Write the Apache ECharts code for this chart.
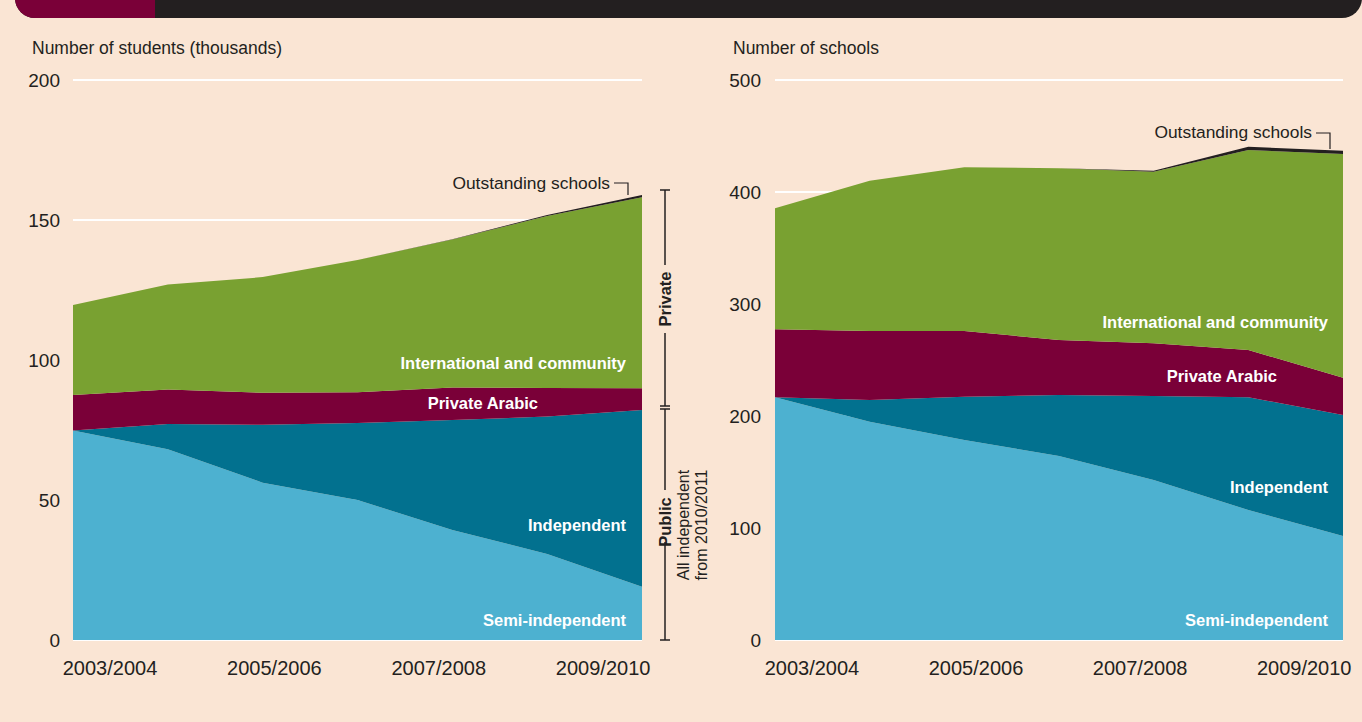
<!DOCTYPE html>
<html><head><meta charset="utf-8">
<script src="https://cdn.jsdelivr.net/npm/echarts@6/dist/echarts.min.js"></script>
<style>html,body{margin:0;padding:0;background:#fae5d4}#c{width:1362px;height:722px}</style>
</head><body><div id="c"></div>
<script>
// ---- data ----
const years = ['2003/2004','2004/2005','2005/2006','2006/2007','2007/2008','2008/2009','2009/2010'];
const tickLabels = ['2003/2004','2005/2006','2007/2008','2009/2010'];
const seriesNames = ['Semi-independent','Independent','Private Arabic','International and community','Outstanding schools'];
// students (thousands)
const stuSemi   = [74.8, 68.1, 56.2, 50.0, 39.3, 30.7, 19.0];
const stuIndep  = [0, 9.0, 20.7, 27.5, 39.3, 49.1, 63.1];
const stuArabic = [12.7, 12.4, 11.4, 11.0, 11.6, 10.2, 7.8];
const stuIntl   = [32.1, 37.5, 41.3, 47.2, 52.8, 61.4, 68.2];
const stuOutst  = [0, 0, 0, 0, 0.1, 0.4, 0.8];
// number of schools
const schSemi   = [216.7, 194.9, 178.6, 164.3, 142.9, 116.1, 92.9];
const schIndep  = [0, 19.4, 38.6, 54.5, 75.0, 100.6, 108.0];
const schArabic = [60.7, 61.6, 58.7, 49.1, 47.0, 42.2, 33.3];
const schIntl   = [108.0, 134.2, 146.2, 153.3, 153.1, 178.5, 199.7];
const schOutst  = [0, 0, 0, 0, 1, 3, 3];

// ---- style ----
const FONT = "'Liberation Sans', Arial, sans-serif";
const INK = '#231f20';
const colors = ['#4db1d0', '#02718f', '#7a0038', '#79a131', '#231f20'];

const labelStart = 0.39, labelEnd = 5.59;
const labelStep = (labelEnd - labelStart) / (tickLabels.length - 1);
const labelPos = tickLabels.map((_, i) => labelStart + i * labelStep);

function xAxesFor(g) {
  return [
    { type: 'category', gridIndex: g, data: years, boundaryGap: false, position: 'top',
      axisLine: {show: false}, axisTick: {show: false}, axisLabel: {show: false}, splitLine: {show: false} },
    { type: 'value', gridIndex: g, min: 0, max: years.length - 1, position: 'bottom',
      axisLine: {show: false}, axisTick: {show: false}, splitLine: {show: false},
      axisLabel: { customValues: labelPos, fontSize: 20, color: INK, fontFamily: FONT, margin: 18,
        formatter: v => tickLabels[Math.round((v - labelStart) / labelStep)] } }
  ];
}
function yAxisFor(g, max, interval, margin) {
  return { type: 'value', gridIndex: g, min: 0, max: max, interval: interval,
    axisLine: {show: false}, axisTick: {show: false},
    axisLabel: { fontSize: 19, color: INK, fontFamily: FONT, margin: margin },
    splitLine: { lineStyle: { color: '#ffffff', width: 2 } } };
}
function seriesFor(g, arrays, stack) {
  return arrays.map((arr, i) => ({
    name: seriesNames[i], type: 'line', stack: stack, xAxisIndex: g * 2, yAxisIndex: g,
    data: arr, symbol: 'none', smooth: false,
    lineStyle: { width: 0 }, areaStyle: { color: colors[i], opacity: 1 }, z: 2 + i
  }));
}

function whiteLabel(text, x, y) {
  return { type: 'text', x: x, y: y, z: 100,
    style: { text: text, fill: '#ffffff', font: 'bold 16.5px ' + FONT, align: 'right', verticalAlign: 'middle' } };
}
function line(x1, y1, x2, y2) {
  return { type: 'line', z: 100, shape: {x1, y1, x2, y2}, style: { stroke: INK, lineWidth: 1.5 } };
}

const graphics = [
  // top bar
  { type: 'rect', z: 100, shape: {x: 15, y: -30, width: 1347, height: 48, r: [0, 0, 20, 20]}, style: {fill: INK} },
  { type: 'rect', z: 101, shape: {x: 15, y: -30, width: 140, height: 48, r: [0, 0, 0, 20]}, style: {fill: '#7a0038'} },
  // axis titles
  { type: 'text', x: 32, y: 48, z: 100, style: { text: 'Number of students (thousands)', fill: INK, font: '17.5px ' + FONT, align: 'left', verticalAlign: 'middle' } },
  { type: 'text', x: 733, y: 48, z: 100, style: { text: 'Number of schools', fill: INK, font: '17.5px ' + FONT, align: 'left', verticalAlign: 'middle' } },
  // in-area labels, left
  whiteLabel('International and community', 626, 363),
  whiteLabel('Private Arabic', 538, 403),
  whiteLabel('Independent', 626, 525),
  whiteLabel('Semi-independent', 626, 620),
  // in-area labels, right
  whiteLabel('International and community', 1328, 322),
  whiteLabel('Private Arabic', 1277, 376),
  whiteLabel('Independent', 1328, 487),
  whiteLabel('Semi-independent', 1328, 620),
  // outstanding schools callouts
  { type: 'text', x: 610, y: 183, z: 100, style: { text: 'Outstanding schools', fill: INK, font: '17.4px ' + FONT, align: 'right', verticalAlign: 'middle' } },
  { type: 'polyline', z: 100, shape: { points: [[614, 183], [628, 183], [628, 195]] }, style: { stroke: INK, lineWidth: 1.2, fill: null } },
  { type: 'text', x: 1312, y: 132, z: 100, style: { text: 'Outstanding schools', fill: INK, font: '17.4px ' + FONT, align: 'right', verticalAlign: 'middle' } },
  { type: 'polyline', z: 100, shape: { points: [[1316, 133], [1330, 133], [1330, 149]] }, style: { stroke: INK, lineWidth: 1.2, fill: null } },
  // bracket
  line(665, 190, 665, 265), line(665, 333, 665, 406), line(665, 409, 665, 490), line(665, 542, 665, 640),
  line(660, 190, 670, 190), line(660, 406, 670, 406), line(660, 409, 670, 409), line(660, 640, 670, 640),
  { type: 'text', x: 665, y: 299, rotation: Math.PI / 2, z: 100, style: { text: 'Private', fill: INK, font: 'bold 16.5px ' + FONT, align: 'center', verticalAlign: 'middle' } },
  { type: 'text', x: 665, y: 522, rotation: Math.PI / 2, z: 100, style: { text: 'Public', fill: INK, font: 'bold 16.5px ' + FONT, align: 'center', verticalAlign: 'middle' } },
  { type: 'text', x: 692, y: 525, rotation: Math.PI / 2, z: 100, style: { text: 'All independent\nfrom 2010/2011', fill: INK, font: '16px ' + FONT, lineHeight: 18, align: 'center', verticalAlign: 'middle' } }
];

const chart = echarts.init(document.getElementById('c'), null, {renderer: 'svg'});
chart.setOption({
  backgroundColor: '#fae5d4',
  animation: false,
  textStyle: { fontFamily: FONT },
  grid: [
    { left: 73, top: 80, width: 569, height: 560, containLabel: false },
    { left: 775, top: 80, width: 568, height: 560, containLabel: false }
  ],
  xAxis: [...xAxesFor(0), ...xAxesFor(1)],
  yAxis: [yAxisFor(0, 200, 50, 13), yAxisFor(1, 500, 100, 14)],
  series: [
    ...seriesFor(0, [stuSemi, stuIndep, stuArabic, stuIntl, stuOutst], 'students'),
    ...seriesFor(1, [schSemi, schIndep, schArabic, schIntl, schOutst], 'schools')
  ],
  graphic: graphics
});
</script></body></html>
